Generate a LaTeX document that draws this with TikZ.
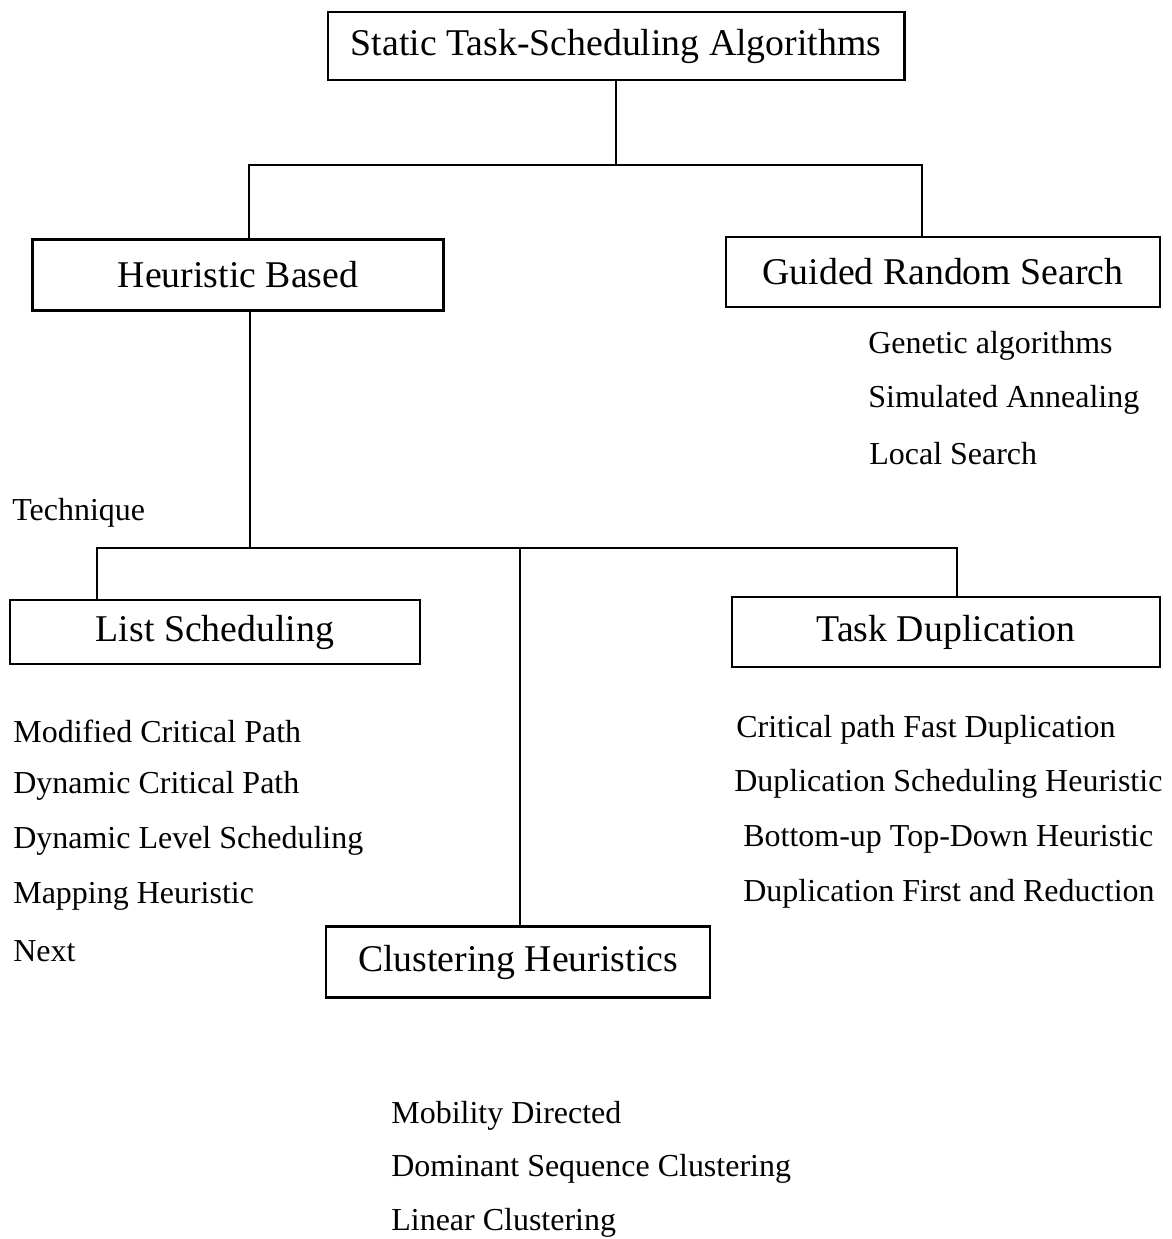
\documentclass[tikz,border=0pt]{standalone}
\usepackage{fontspec}
\setmainfont{Liberation Serif}
\usetikzlibrary{positioning}

\tikzset{
  algbox/.style={draw, line width=1.2pt, inner sep=0pt, font=\fontsize{21.5}{25}\selectfont},
  algitem/.style={anchor=west, inner sep=0pt, font=\fontsize{18.2}{22}\selectfont},
  link/.style={line width=1.2pt}
}

\begin{document}
\begin{tikzpicture}[x=0.02cm,y=-0.02cm]
\useasboundingbox (0,0) rectangle (1171,1239);

% boxes
\node[algbox, minimum width=11.54cm, minimum height=1.36cm] (top) at (616,46) {Static Task-Scheduling Algorithms};
\node[algbox, minimum width=8.22cm, minimum height=1.42cm] (heur) at (238,275) {Heuristic Based};
\node[algbox, minimum width=8.68cm, minimum height=1.40cm] (guided) at (943,272) {Guided Random Search};
\node[algbox, minimum width=8.20cm, minimum height=1.28cm] (list) at (215,632) {List Scheduling};
\node[algbox, minimum width=8.56cm, minimum height=1.40cm] (task) at (946,632) {Task Duplication};
\node[algbox, minimum width=7.68cm, minimum height=1.42cm] (clust) at (518,962) {Clustering Heuristics};

% labels
\node[algitem] (tech) at (12,513) {Technique};

\node[algitem] (ga) at (868,346) {Genetic algorithms};
\node[algitem] (sa) at (868,400) {Simulated Annealing};
\node[algitem] (lsr) at (869,454) {Local Search};

\node[algitem] (mcp) at (13,731) {Modified Critical Path};
\node[algitem] (dcp) at (13,786) {Dynamic Critical Path};
\node[algitem] (dls) at (13,841) {Dynamic Level Scheduling};
\node[algitem] (mh) at (13,896) {Mapping Heuristic};
\node[algitem] (nxt) at (13,951) {Next};

\node[algitem] (cpfd) at (736,730) {Critical path Fast Duplication};
\node[algitem] (dsh) at (734,784) {Duplication Scheduling Heuristic};
\node[algitem] (btdh) at (743,839) {Bottom-up Top-Down Heuristic};
\node[algitem] (dfrd) at (743,894) {Duplication First and Reduction};

\node[algitem] (md) at (391,1116) {Mobility Directed};
\node[algitem] (dsc) at (391,1169) {Dominant Sequence Clustering};
\node[algitem] (lc) at (391,1223) {Linear Clustering};

% connectors
\coordinate (hb) at (249,165);
\coordinate (gr) at (922,165);
\coordinate (hs) at (250,548);
\coordinate (ls) at (97,548);
\coordinate (td) at (957,548);
\coordinate (cl) at (520,548);

\draw[link] (top.south) -- (top.south |- hb);
\draw[link] (heur.north -| hb) -- (hb) -- (gr) -- (guided.north -| gr);
\draw[link] (heur.south -| hs) -- (hs);
\draw[link] (list.north -| ls) -- (ls) -- (td) -- (task.north -| td);
\draw[link] (cl) -- (clust.north -| cl);
\end{tikzpicture}
\end{document}
